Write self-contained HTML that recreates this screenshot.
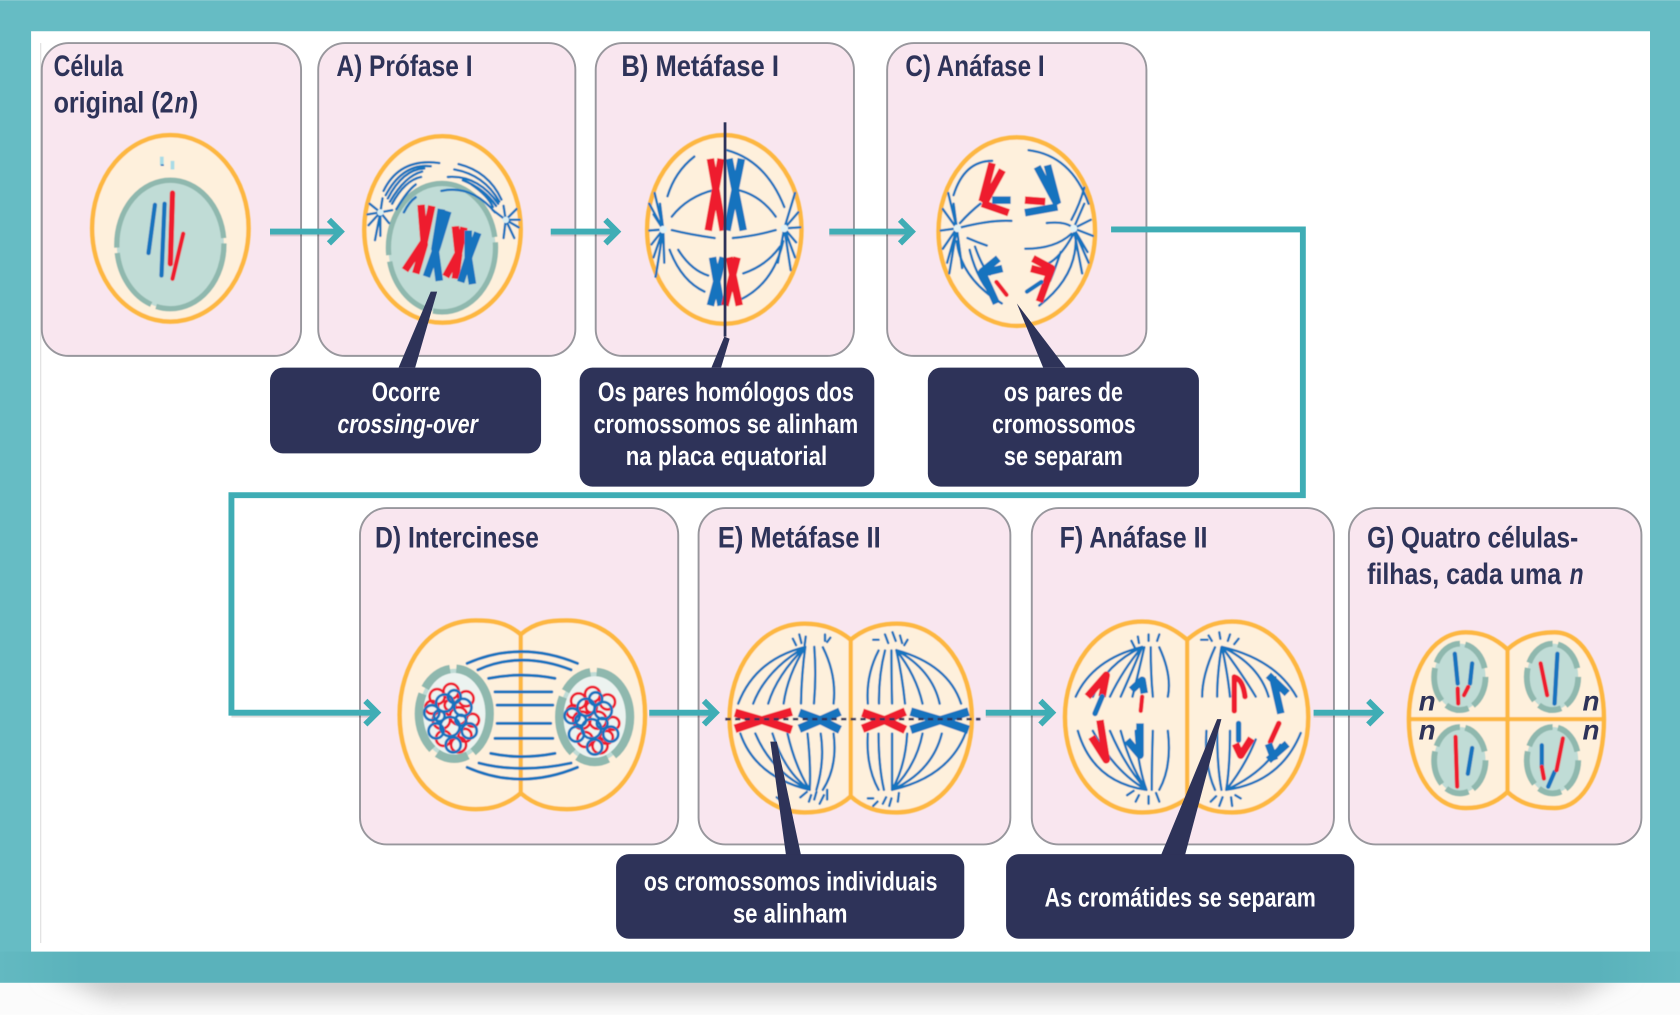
<!DOCTYPE html>
<html lang="pt">
<head>
<meta charset="utf-8">
<title>Meiose</title>
<style>
html,body{margin:0;padding:0;background:#fff;width:1680px;height:1015px;overflow:hidden}
svg{display:block}
text{font-family:"Liberation Sans Narrow","Liberation Sans",sans-serif;font-weight:700}
.t{fill:#2e3359;font-size:28px}
.w{fill:#fff;font-size:25px}
.p{fill:#f9e6ef;stroke:#98979d;stroke-width:1.8}
.c{fill:#fef0dc;stroke:#fdb73f;stroke-width:4.2}
.d{fill:none;stroke:#fdb73f;stroke-width:4}
.nu{fill:#c0dcd6;stroke:#8fb8ae;stroke-width:5}
.b{fill:none;stroke:#1273be;stroke-width:2.3;stroke-linecap:round}
.cb{fill:none;stroke:#1273be;stroke-width:7;stroke-linejoin:round}
.cr{fill:none;stroke:#ee1c2e;stroke-width:7;stroke-linejoin:round}
.tb{fill:none;stroke:#1273be;stroke-width:4;stroke-linecap:round}
.tr{fill:none;stroke:#ee1c2e;stroke-width:4;stroke-linecap:round}
.a{fill:none;stroke:#3fadb5;stroke-width:5.5}
.s{fill:none;stroke:#000;stroke-opacity:.14;stroke-width:2}
.k{fill:#2e3359}
.lr{fill:none;stroke:#ee1c2e;stroke-width:2.6}
.lb{fill:none;stroke:#1273be;stroke-width:2.6}
</style>
</head>
<body>
<svg xmlns="http://www.w3.org/2000/svg" width="1680" height="1015" viewBox="0 0 1568 947">
<defs>
<filter id="soft" x="-5%" y="-5%" width="110%" height="110%"><feGaussianBlur stdDeviation="0.55"/></filter>
<filter id="sh" x="-5%" y="-100%" width="110%" height="300%"><feGaussianBlur stdDeviation="10"/></filter>
<linearGradient id="tealb" x1="0" y1="0" x2="1" y2="0">
<stop offset="0" stop-color="#63b9c1"/><stop offset=".05" stop-color="#5ab2bb"/><stop offset=".95" stop-color="#5ab2bb"/><stop offset="1" stop-color="#63b9c1"/>
</linearGradient>
</defs>

<!-- background -->
<rect width="1568" height="947" fill="#fbfbfb"/>
<path d="M40 905H1520L1470 930H100Z" fill="#c4c4c4" filter="url(#sh)"/>
<rect width="1568" height="917" fill="#66bcc4"/>
<rect y="888" width="1568" height="29" fill="url(#tealb)"/>
<rect x="29" y="29" width="1511" height="859" fill="#fff"/>
<rect x="37.5" y="40" width="1" height="840" fill="#dddddd"/>

<!-- panels -->
<rect class="p" x="39" y="40" width="242" height="292" rx="25"/>
<rect class="p" x="297" y="40" width="240" height="292" rx="25"/>
<rect class="p" x="556" y="40" width="241" height="292" rx="25"/>
<rect class="p" x="828" y="40" width="242" height="292" rx="25"/>
<rect class="p" x="336" y="474" width="297" height="314" rx="25"/>
<rect class="p" x="652" y="474" width="291" height="314" rx="25"/>
<rect class="p" x="963" y="474" width="282" height="314" rx="25"/>
<rect class="p" x="1259" y="474" width="273" height="314" rx="25"/>

<g filter="url(#soft)">
<!-- cell 0 -->
<ellipse class="c" cx="159" cy="213" rx="73" ry="87"/>
<ellipse class="nu" cx="159" cy="228" rx="50" ry="60" stroke-dasharray="100 5 60 5 170 5"/>
<path d="M144.6 191L138.6 236" class="tb"/>
<path d="M153.6 190L150.7 257" class="tb"/>
<path d="M161 180L159 246" class="tr" style="stroke-width:5"/>
<path d="M171 218L161 260" class="tr"/>
<path d="M151 146v8M161 150v8" stroke="#a8dbe6" stroke-width="3.5" fill="none"/>
<path d="M150 154h3" stroke="#1273be" stroke-width="1.5"/>

<!-- cell 1 -->
<ellipse class="c" cx="413" cy="214" rx="73" ry="87"/>
<ellipse class="nu" cx="412.5" cy="231" rx="50" ry="60" stroke-dasharray="95 5 60 6 170 5"/>
<path class="b" d="M358 178Q373 147 410 152M360 182Q376 152 402 155M362 185Q376 158 396 157M364 188Q378 164 394 160M366 190Q378 168 393 165M370 195Q380 178 388 172M377 198Q382 188 388 184"/>
<path class="b" d="M428 153Q456 160 468 186M424 158Q452 163 466 188M418 165Q446 163 465 190M412 178Q440 172 462 198M432 168Q452 176 463 192M440 172Q455 182 460 193"/>
<path class="b" d="M355 198L344 210M355 198L345 190M355 198L350 224M355 198L366 196M355 198L357 185M355 198L363 208M355 198L343 200M355 198L355 220M472 205L484 212M472 205L482 195M472 205L470 222M472 205L460 196M472 205L470 192M472 205L480 222M472 205L485 205"/>
<circle cx="355" cy="198" r="3" fill="#d9eef3"/><circle cx="472" cy="205" r="3" fill="#d9eef3"/>
<path class="cr" d="M393 191L396 228L388 255M403 192L396 225L378 252"/>
<path class="cb" d="M412 195L406 232L410 262M418 197L408 230L398 258"/>
<path class="cr" d="M425 211L428 238L425 260M433 212L428 236L416 258"/>
<path class="cb" d="M437 215L437 240L441 265M446 217L438 238L430 263"/>

<!-- cell 2 -->
<ellipse class="c" cx="676" cy="214" rx="72" ry="88"/>
<path class="b" d="M623 183Q630 160 648 146M627 202Q642 183 667 177M627 214.6Q645 219 667 222M684 222Q705 220 724 214.6M688 177Q710 182 724 202M678.5 140Q715 150 732 193M625 233Q636 262 657.5 272M633 233Q645 252 661 257M693.7 255Q715 248 728 230M690 280Q722 265 731 225"/>
<path class="b" d="M619 214L611 180M619 214L606 190M619 214L610 200M619 214L606 215M619 214L608 228M619 214L612 258M619 214L620 245M619 214L616 190M619 214L610 240M732 213L742 180M732 213L745 198M732 213L747 212M732 213L743 226M732 213L738 252M732 213L726 245M732 213L742 240"/>
<circle cx="619" cy="214" r="3.5" fill="#e4f3f5"/><circle cx="732" cy="213" r="3.5" fill="#e4f3f5"/>
<path class="cr" d="M663 148L675 215M673 148L661 215"/>
<path class="cb" d="M680.4 148L693.7 215M692 148L678.5 215"/>
<path class="cb" d="M665 240L673 285M675 240L663 285"/>
<path class="cr" d="M680.4 240L690 285M688 240L676.6 285"/>

<!-- cell 3 -->
<ellipse class="c" cx="949" cy="216" rx="73" ry="88"/>
<path class="b" d="M890 182Q900 150 926 150M897 212Q925 205 944 206M915 190Q905 198 896 208M960 140Q1000 145 1016 190M977 208Q995 206 1002 213M1000 205Q1008 190 1012 175M903 222Q912 226 921 229M957 232Q985 232 1000 218M1002 218Q990 240 978 246M893 225Q897 260 935 283M905 233Q912 262 930 280M910 230Q917 250 924 256M1004 222Q1005 258 970 285M990 235Q985 250 980 262"/>
<path class="b" d="M893 213L885 180M893 213L880 195M893 213L878 215M893 213L880 232M893 213L886 255M893 213L898 250M893 213L890 190M893 213L884 245M1002 213L1012 190M1002 213L1018 205M1002 213L1020 220M1002 213L1015 235M1002 213L1010 255M1002 213L1016 245"/>
<circle cx="893.5" cy="213" r="3.5" fill="#e4f3f5"/><circle cx="1002" cy="213" r="3.5" fill="#e4f3f5"/>
<path class="cr" d="M926 152L916.6 188M935.6 158.6L918.5 189.7M916.6 189.7L941.4 198.4"/>
<path class="cb" d="M926 186.6H943.3"/>
<path class="cr" d="M956.6 186.6L975.6 188"/>
<path class="cb" d="M968 155.5L987 191M977.6 154L987 190M956.6 198.4L987 193"/>
<path class="cb" d="M931.8 241L916.6 253.5L930 283M935.6 250.4L916.6 255"/>
<path class="tr" d="M930 263L939.4 275"/>
<path class="cr" d="M964 241L981.4 250.4L970 281.5M962.3 250.4L979.5 255"/>
<path class="tb" d="M972 263L958.5 272"/>

<!-- cell 4 -->
<path class="c" d="M486 592C472 580 458 579 444 579C400 579 373 620 373 667C373 714 400 755 444 755C458 755 472 752 486 740C500 752 514 755 529 755C575 755 602 714 602 667C602 620 575 579 529 579C514 579 500 580 486 592Z"/>
<path class="d" d="M486 592V740" stroke-width="3"/>
<path class="b" stroke-width="2.8" style="stroke-width:2.8" d="M436 619Q486 597 539 619M446 625Q486 607 533 625M456 633Q486 627 518 633M462 645.6H515M464 658H516M464 675H514M462 689H516M458 703Q486 709 518 703M447 712Q486 722 533 712M436 716Q486 738 539 716"/>
<ellipse class="nu" cx="424" cy="666" rx="33" ry="42" stroke-dasharray="40 6 30 6 55 6 30 6 60" style="stroke-width:8"/>
<ellipse class="nu" cx="555" cy="669" rx="33" ry="42" stroke-dasharray="40 6 30 6 55 6 30 6 60" style="stroke-width:8"/>
<ellipse cx="424" cy="666" rx="29" ry="38" fill="#ecf3f0"/>
<ellipse cx="555" cy="669" rx="29" ry="38" fill="#ecf3f0"/>
<g class="lr">
<circle cx="408" cy="650" r="7"/><circle cx="421" cy="645" r="7"/><circle cx="435" cy="652" r="7"/><circle cx="412" cy="672" r="8"/><circle cx="428" cy="668" r="8"/><circle cx="441" cy="672" r="6"/><circle cx="414" cy="689" r="7"/><circle cx="428" cy="695" r="7"/><circle cx="403" cy="660" r="6"/><circle cx="434" cy="686" r="6"/><circle cx="420" cy="658" r="5"/>
<circle cx="540" cy="654" r="7"/><circle cx="553" cy="648" r="7"/><circle cx="567" cy="655" r="7"/><circle cx="543" cy="672" r="8"/><circle cx="558" cy="672" r="8"/><circle cx="572" cy="675" r="6"/><circle cx="546" cy="690" r="7"/><circle cx="560" cy="696" r="7"/><circle cx="535" cy="664" r="6"/><circle cx="566" cy="688" r="6"/><circle cx="552" cy="660" r="5"/>
</g>
<g class="lb">
<circle cx="415" cy="656" r="8"/><circle cx="432" cy="660" r="8"/><circle cx="403" cy="665" r="7"/><circle cx="420" cy="678" r="9"/><circle cx="438" cy="682" r="7"/><circle cx="407" cy="682" r="7"/><circle cx="423" cy="695" r="7"/><circle cx="424" cy="650" r="6"/><circle cx="410" cy="668" r="5"/><circle cx="430" cy="672" r="5"/>
<circle cx="547" cy="660" r="8"/><circle cx="563" cy="663" r="8"/><circle cx="534" cy="668" r="7"/><circle cx="552" cy="680" r="9"/><circle cx="570" cy="685" r="7"/><circle cx="538" cy="685" r="7"/><circle cx="555" cy="697" r="7"/><circle cx="556" cy="652" r="6"/><circle cx="542" cy="672" r="5"/><circle cx="562" cy="675" r="5"/>
</g>

<!-- cell 5 -->
<path class="c" d="M794 597C782 587 768 582 751 582C708 582 681 625 681 670C681 716 708 758 751 758C768 758 782 754 794 743C806 754 820 758 837 758C880 758 907 716 907 670C907 625 880 582 837 582C820 582 806 587 794 597Z"/>
<path class="d" d="M794 597V743" stroke-width="3"/>
<path class="b" d="M751.6 603.6Q705 615 689 656.5M751.6 603.6Q715 625 703 656.5M751.6 603.6Q725 630 717 656.5M751.6 603.6Q735 630 731.4 656.5M751.6 603.6Q748 630 747.6 656.5M760 603.6Q762 630 759.7 656.5M768 604Q781 630 778 656.5"/>
<path class="b" d="M755.7 737Q705 725 691 684.5M755.7 737Q720 720 705 684.5M755.7 737Q732 720 721 684.5M755.7 737Q742 715 735 684.5M755.7 737Q757 715 753.7 684.5M762 737Q770 710 766 684.5M768 737Q782 715 778 684.5"/>
<path class="b" d="M820 607Q808 630 810 656.5M826 607Q820 630 820.4 656.5M832 607Q832 630 832.6 656.5M836.6 606.7Q842 630 844.7 656.5M836.6 606.7Q855 630 861 656.5M836.6 606.7Q870 625 877 656.5M836.6 606.7Q885 620 897 656.5"/>
<path class="b" d="M820 737Q808 715 810 684.5M825 737Q820 715 820 684.5M832.6 737V684.5M832.6 737Q845 715 846.7 684.5M832.6 737Q855 715 861 684.5M832.6 737Q870 720 879 684.5M832.6 737Q885 725 901 684.5"/>
<path class="b" d="M740 596l3 6M746 592l2 8M752 594l-1 8M770 592v6M775 595l-3 4M815 597h5M826 592l3 8M833 590l3 8M840 593l2 7M847 597l-3 5M747 744l6-5M755 748l2-6M765 750l4-8M772 746v-9M810 745h5M815 752l4-4M830 752l2-7M838 748l1-8M725 744l5 4M760 746l2-7M824 750l3-6"/>
<path class="cr" style="stroke-width:8" d="M686 665L710 672L686 680M739 664L712 672L739 681"/>
<path class="cb" style="stroke-width:8" d="M746 665L765 672L746 680M784 664L766 672L784 681"/>
<path class="cr" style="stroke-width:8" d="M805 665L825 672L805 680M845 664L826 672L845 681"/>
<path class="cb" style="stroke-width:8" d="M850 664L877 672L850 681M904 664L878 672L904 681"/>
<path d="M677 671H915" stroke="#2e3359" stroke-width="2.4" stroke-dasharray="5 4" fill="none"/>

<!-- cell 6 -->
<path class="c" d="M1108 597C1095 586 1083 580 1066 580C1022 580 994 625 994 669C994 716 1022 758 1066 758C1083 758 1095 754 1108 745C1121 754 1133 758 1150 758C1193 758 1221 716 1221 669C1221 625 1193 580 1150 580C1133 580 1121 586 1108 597Z"/>
<path class="d" d="M1108 597V745" stroke-width="3"/>
<path class="b" d="M1066 603.6Q1020 615 1004 650M1066 603.6Q1032 620 1020 650M1066 603.6Q1048 625 1036 650M1066 603.6Q1055 630 1046 650M1068 604Q1062 630 1057 650M1074 604Q1074 630 1076 650M1082 604Q1094 630 1090 650"/>
<path class="b" d="M1070 737Q1020 730 1006 682M1070 737Q1040 720 1020 682M1070 737Q1050 715 1036 682M1070 737Q1055 715 1046 682M1070 737Q1062 715 1060 682M1075 737Q1075 710 1076 682M1082 737Q1094 715 1090 682"/>
<path class="b" d="M1134 604Q1122 630 1122 650M1140 604Q1136 630 1136 650M1140.5 603.6Q1146 630 1148 650M1140.5 603.6Q1160 630 1172 650M1140.5 603.6Q1175 620 1184 650M1140.5 603.6Q1190 615 1210 650"/>
<path class="b" d="M1134 737Q1124 715 1126 682M1140 737Q1136 715 1136 682M1144.5 737Q1148 715 1148 682M1144.5 737Q1162 715 1172 690M1144.5 737Q1178 722 1195 695M1144.5 737Q1195 730 1214 684"/>
<path class="b" d="M1056 598l3 6M1062 594l1 6M1072 592v6M1082 592l-2 6M1121 597h6M1128 593l3 5M1138 590l1 6M1148 592l-2 6M1156 596l-4 5M1052 742l6-4M1060 748l3-6M1072 750v-7M1082 748l-3-8M1130 748l5-5M1138 752l3-8M1150 752l-1-8M1158 745l-5-3"/>
<path class="cr" d="M1015 650L1032.5 630L1028.6 650"/>
<path class="tb" style="stroke-width:5" d="M1028.6 650L1022 665.8"/>
<path class="cb" d="M1056 644L1066 634.7L1068 647"/>
<path class="tr" d="M1066 650L1064.7 663.3"/>
<path class="tr" style="stroke-width:5" d="M1152 631.6L1152 663.3M1152 631.6Q1160 634 1162 650"/>
<path class="cb" d="M1183.8 630L1201.4 647M1187.7 631.6L1195.5 665.8"/>
<path class="cr" d="M1026.6 672L1032.5 709L1018.8 687.6"/>
<path class="cb" d="M1064 675L1064 704.7L1052 690.7"/>
<path class="tb" style="stroke-width:5" d="M1156 675L1156 690.7"/>
<path class="cr" d="M1153 694L1158 704.7L1168 689"/>
<path class="tr" style="stroke-width:5" d="M1193.6 675L1185.7 692.3"/>
<path class="cb" d="M1183.8 709.4L1201.4 694M1183.8 694L1189.6 709.4"/>

<!-- cell 7 -->
<path class="c" d="M1407 606C1395 595 1383 590 1368 590C1335 590 1315 630 1315 671C1315 715 1335 754 1368 754C1383 754 1395 750 1407 739C1419 750 1433 754 1451 754C1480 754 1497 715 1497 671C1497 630 1480 590 1451 590C1433 590 1419 595 1407 606Z"/>
<ellipse class="nu" cx="1362.5" cy="631.6" rx="24" ry="31" stroke-dasharray="30 5 22 6 32 5 30 5 30" style="stroke-width:5.5"/>
<ellipse class="nu" cx="1449" cy="631.6" rx="24" ry="31" stroke-dasharray="30 5 22 6 32 5 30 5 30" style="stroke-width:5.5"/>
<ellipse class="nu" cx="1362.5" cy="709.4" rx="24" ry="31" stroke-dasharray="30 5 22 6 32 5 30 5 30" style="stroke-width:5.5"/>
<ellipse class="nu" cx="1449" cy="709.4" rx="24" ry="31" stroke-dasharray="30 5 22 6 32 5 30 5 30" style="stroke-width:5.5"/>
<path class="d" stroke-width="3.5" d="M1407 606V739M1315 671H1497"/>
<path class="tb" d="M1357.8 610L1360.5 637.8M1374 619L1372 637.8"/>
<path class="tr" d="M1360.5 642.5L1361 656.5M1370.3 641L1366.4 648.7"/>
<path class="tr" d="M1437.9 619L1444 648.7"/>
<path class="tb" d="M1453.6 610L1450.9 656.5"/>
<path class="tr" d="M1358.5 687.6L1360 734"/>
<path class="tb" d="M1374 698L1370 722"/>
<path class="tb" d="M1439 695.4L1439 715.6M1450.9 720.3L1445 734"/>
<path class="tr" d="M1439 715.6L1441 726.5M1458.7 689L1452.8 718.7"/>
</g>
<text x="1324" y="663" font-size="26" font-style="italic" fill="#2e3359">n</text>
<text x="1477" y="663" font-size="26" font-style="italic" fill="#2e3359">n</text>
<text x="1324" y="690" font-size="26" font-style="italic" fill="#2e3359">n</text>
<text x="1477" y="690" font-size="26" font-style="italic" fill="#2e3359">n</text>

<!-- connectors -->
<path class="s" d="M252 219.5H314M514 219.5H572M774 219.5H847M606 668.5H664M920 668.5H978M1226 668.5H1284M216 668.5H348"/>
<g class="a">
<path d="M252 216H317M307 205L318 216L307 227"/>
<path d="M514 216H575M565 205L576 216L565 227"/>
<path d="M774 216H850M840 205L851 216L840 227"/>
<path d="M1037 214H1216V462H216V665H351M341 654L352 665L341 676"/>
<path d="M606 665H667M657 654L668 665L657 676"/>
<path d="M920 665H981M971 654L982 665L971 676"/>
<path d="M1226 665H1287M1277 654L1288 665L1277 676"/>
</g>

<!-- pointers -->
<path class="k" d="M402 272L408 272L387.5 343H372Z"/>
<rect class="k" x="675.4" y="114" width="2.6" height="200"/>
<path class="k" d="M676 314L681 316L673 343H664Z"/>
<path class="k" d="M949 283L994.6 343H973.6Z"/>
<path class="k" d="M719 692L725 692L747.6 798H733.6Z"/>
<path class="k" d="M1136 671L1140 671L1106 798H1083.6Z"/>

<!-- callouts -->
<rect class="k" x="252" y="343" width="253" height="80" rx="12"/>
<rect class="k" x="541" y="343" width="275" height="111" rx="12"/>
<rect class="k" x="866" y="343" width="253" height="111" rx="12"/>
<rect class="k" x="575" y="797" width="325" height="79" rx="12"/>
<rect class="k" x="939" y="797" width="325" height="79" rx="12"/>

<!-- titles -->
<text class="t" x="50" y="71" textLength="65" lengthAdjust="spacingAndGlyphs">Célula</text>
<text class="t" x="50" y="105" textLength="112" lengthAdjust="spacingAndGlyphs">original (2</text>
<text class="t" x="163" y="105" textLength="13" lengthAdjust="spacingAndGlyphs" font-style="italic">n</text>
<text class="t" x="177" y="105" textLength="8" lengthAdjust="spacingAndGlyphs">)</text>
<text class="t" x="314" y="71" textLength="127" lengthAdjust="spacingAndGlyphs">A) Prófase I</text>
<text class="t" x="580" y="71" textLength="147" lengthAdjust="spacingAndGlyphs">B) Metáfase I</text>
<text class="t" x="845" y="71" textLength="130" lengthAdjust="spacingAndGlyphs">C) Anáfase I</text>
<text class="t" x="350" y="511" textLength="153" lengthAdjust="spacingAndGlyphs">D) Intercinese</text>
<text class="t" x="670" y="511" textLength="152" lengthAdjust="spacingAndGlyphs">E) Metáfase II</text>
<text class="t" x="989" y="511" textLength="138" lengthAdjust="spacingAndGlyphs">F) Anáfase II</text>
<text class="t" x="1276" y="511" textLength="197" lengthAdjust="spacingAndGlyphs">G) Quatro células-</text>
<text class="t" x="1276" y="545" textLength="181" lengthAdjust="spacingAndGlyphs">filhas, cada uma</text>
<text class="t" x="1465" y="545" textLength="13" lengthAdjust="spacingAndGlyphs" font-style="italic">n</text>

<!-- callout text -->
<text class="w" x="347" y="374" textLength="64" lengthAdjust="spacingAndGlyphs">Ocorre</text>
<text class="w" x="315" y="404" textLength="131" lengthAdjust="spacingAndGlyphs" font-style="italic">crossing-over</text>
<text class="w" x="558" y="374" textLength="239" lengthAdjust="spacingAndGlyphs">Os pares homólogos dos</text>
<text class="w" x="554" y="404" textLength="247" lengthAdjust="spacingAndGlyphs">cromossomos se alinham</text>
<text class="w" x="584" y="434" textLength="188" lengthAdjust="spacingAndGlyphs">na placa equatorial</text>
<text class="w" x="937" y="374" textLength="111" lengthAdjust="spacingAndGlyphs">os pares de</text>
<text class="w" x="926" y="404" textLength="134" lengthAdjust="spacingAndGlyphs">cromossomos</text>
<text class="w" x="937" y="434" textLength="111" lengthAdjust="spacingAndGlyphs">se separam</text>
<text class="w" x="601" y="831" textLength="274" lengthAdjust="spacingAndGlyphs">os cromossomos individuais</text>
<text class="w" x="684" y="861" textLength="107" lengthAdjust="spacingAndGlyphs">se alinham</text>
<text class="w" x="975" y="846" textLength="253" lengthAdjust="spacingAndGlyphs">As cromátides se separam</text>
</svg>
</body>
</html>
